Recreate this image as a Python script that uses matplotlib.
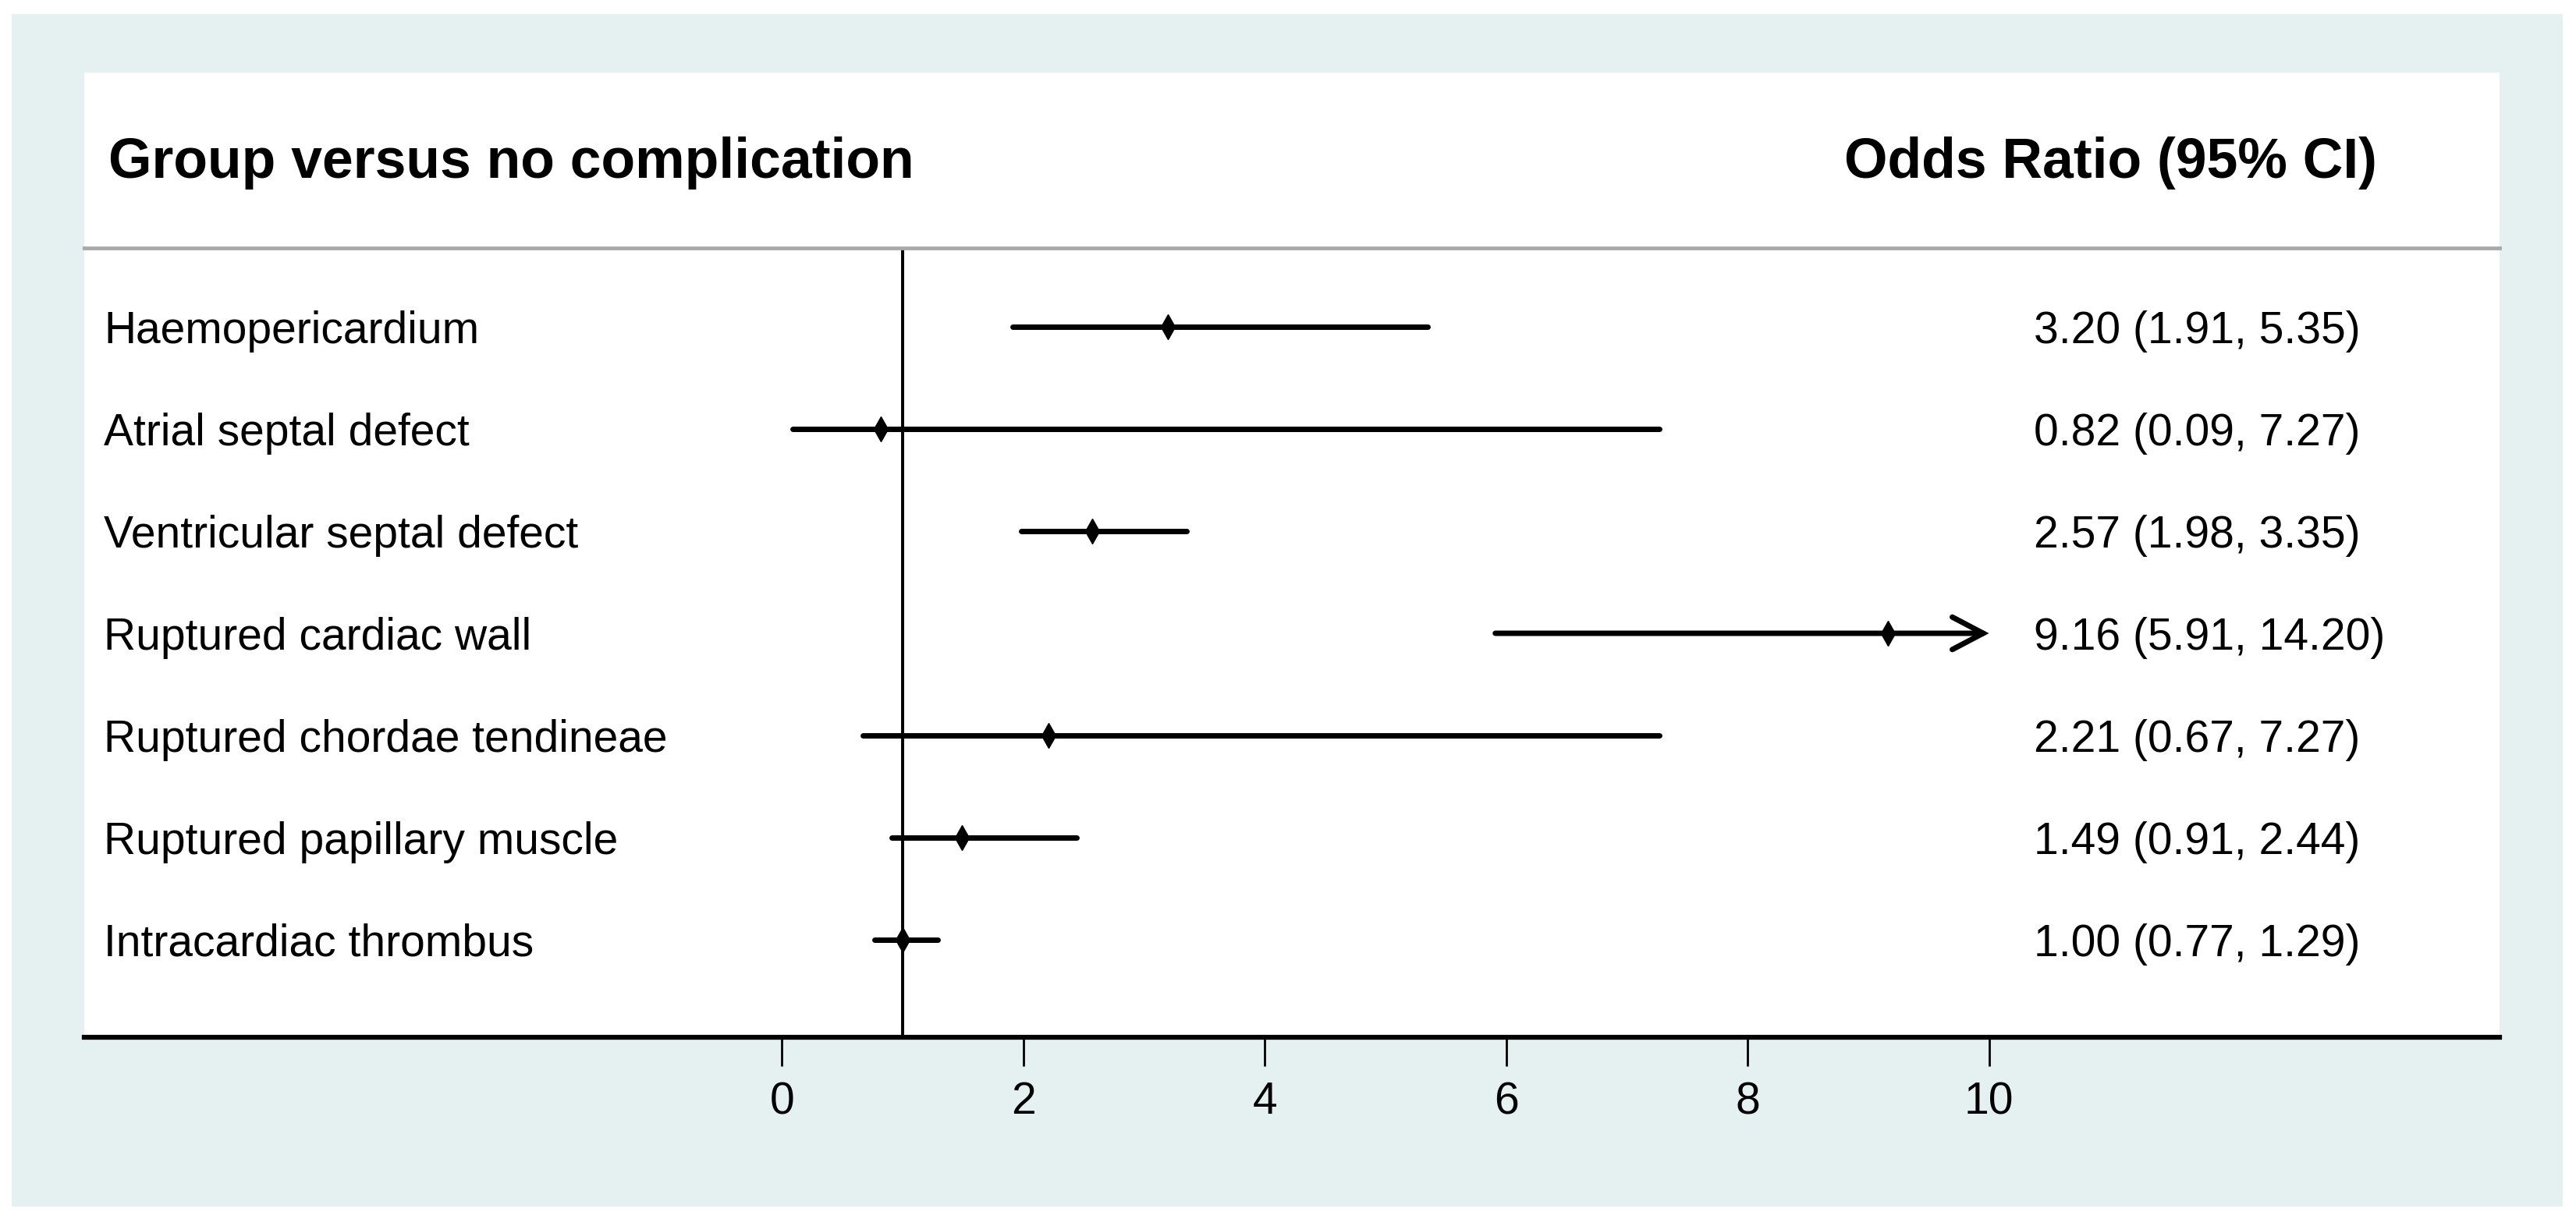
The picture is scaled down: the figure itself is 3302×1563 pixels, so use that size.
import matplotlib.pyplot as plt
import matplotlib.transforms as mtransforms
from matplotlib.patches import Rectangle
import numpy as np

plt.rcParams['font.family'] = ['Liberation Sans', 'DejaVu Sans']

# data
groups = ["Haemopericardium", "Atrial septal defect", "Ventricular septal defect",
          "Ruptured cardiac wall", "Ruptured chordae tendineae",
          "Ruptured papillary muscle", "Intracardiac thrombus"]
or_est = [3.20, 0.82, 2.57, 9.16, 2.21, 1.49, 1.00]
ci_low = [1.91, 0.09, 1.98, 5.91, 0.67, 0.91, 0.77]
ci_high = [5.35, 7.27, 3.35, 14.20, 7.27, 2.44, 1.29]
xticks = [0, 2, 4, 6, 8, 10]
x_clip = 10   # CIs beyond this get an arrow
ref_line = 1

W, H = 3302, 1563
fig = plt.figure(figsize=(W / 100, H / 100), dpi=100)
fig.patch.set_facecolor("white")

# outer graph region and white plot panel (pixel coords -> fig fraction)
def px(x0, y0, x1, y1):
    return (x0 / W, 1 - y1 / H), (x1 - x0) / W, (y1 - y0) / H

xy, w, h = px(15, 18, 3285, 1547)
fig.patches.append(Rectangle(xy, w, h, transform=fig.transFigure, facecolor="#e5f0f1",
                             edgecolor="none", zorder=-10))
xy, w, h = px(108, 93, 3204, 1330)
fig.patches.append(Rectangle(xy, w, h, transform=fig.transFigure, facecolor="white",
                             edgecolor="none", zorder=-9))

ax = fig.add_axes([108 / W, 1 - 1330 / H, (3204 - 108) / W, (1330 - 318) / H])
ax.set_zorder(2)
ax.patch.set_alpha(0)

n = len(groups)
ypos = np.arange(1, n + 1)
ax.set_xlim(-5.78, 14.23)
ax.set_ylim(7.954, 0.229)

# reference line
ax.axvline(ref_line, color="black", lw=2.8, zorder=1)

for y, est, lo, hi in zip(ypos, or_est, ci_low, ci_high):
    if hi > x_clip:
        ax.annotate("", xy=(x_clip, y), xytext=(lo, y),
                    arrowprops=dict(arrowstyle="->,head_length=0.95,head_width=0.5",
                                    lw=5, color="black", mutation_scale=30,
                                    shrinkA=0, shrinkB=0, capstyle="round",
                                    joinstyle="miter"), zorder=2)
    else:
        ax.plot([lo, hi], [y, y], color="black", lw=5, solid_capstyle="round", zorder=2)
    ax.plot(est, y, marker="d", color="black", markersize=16, zorder=3)

# row labels and estimate text
trans = mtransforms.blended_transform_factory(ax.transAxes, ax.transData)
for y, g, est, lo, hi in zip(ypos, groups, or_est, ci_low, ci_high):
    ax.text(0.0081, y + 0.157, g, transform=trans, fontsize=41, va="baseline", ha="left")
    ax.text(0.8072, y + 0.157, f"{est:.2f} ({lo:.2f}, {hi:.2f})", transform=trans,
            fontsize=41, va="baseline", ha="left")

# headers
fig.text(139 / W, 1 - 228 / H, "Group versus no complication", fontsize=51.5,
         fontweight="bold", va="baseline", ha="left")
fig.text(3047 / W, 1 - 228 / H, "Odds Ratio (95% CI)", fontsize=51.5,
         fontweight="bold", va="baseline", ha="right")

# axes styling
for side in ["left", "right"]:
    ax.spines[side].set_visible(False)
ax.spines["bottom"].set_linewidth(4.5)
ax.spines["bottom"].set_color("black")
ax.spines["top"].set_linewidth(3.5)
ax.spines["top"].set_color("#a9a9a9")
ax.set_yticks([])
ax.set_xticks(xticks)
ax.set_xticklabels([str(t) for t in xticks])
ax.tick_params(axis="x", direction="out", length=26.6, width=2, labelsize=41, pad=14,
               color="black")

fig.savefig("out.png", dpi=100)
